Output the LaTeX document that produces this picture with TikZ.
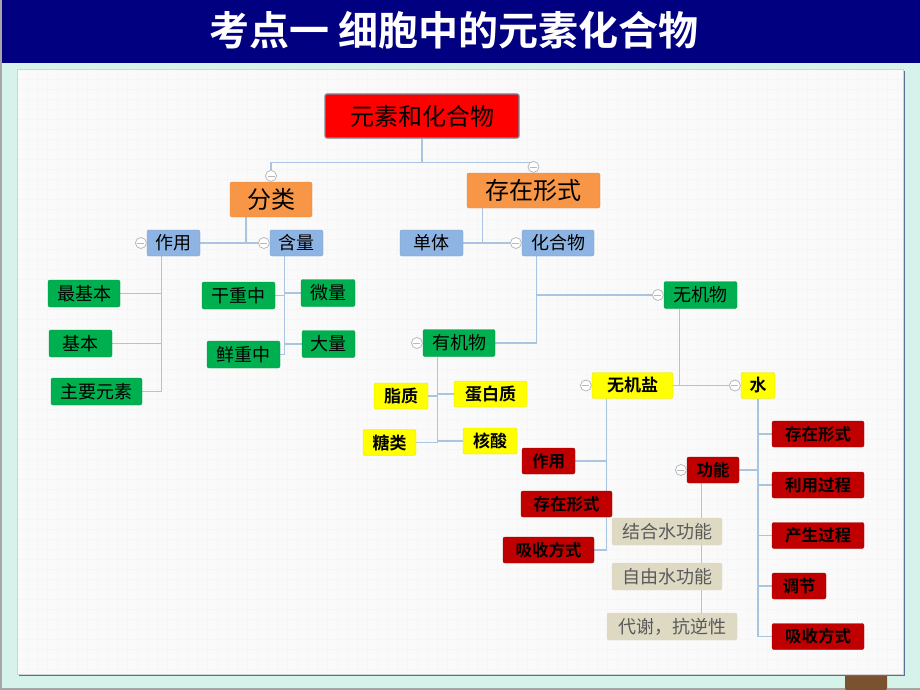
\documentclass[tikz,border=0pt]{standalone}
\usepackage{fontspec}
\usepackage{tikz}
\usetikzlibrary{positioning, calc}
\newfontfamily\cjk{Noto Sans CJK SC}
\newfontfamily\cjkb{Noto Sans CJK SC Bold}
\definecolor{navy}{HTML}{000080}
\definecolor{mint}{HTML}{D5F2EB}
\definecolor{paper}{HTML}{FAFAFA}
\definecolor{panelshadow}{HTML}{5E6E8E}
\definecolor{linkblue}{HTML}{A9C5DF}
\definecolor{rootred}{HTML}{FF0000}
\definecolor{orangebox}{HTML}{F79646}
\definecolor{bluebox}{HTML}{8DB4E2}
\definecolor{greenbox}{HTML}{00B050}
\definecolor{yellowbox}{HTML}{FFFF00}
\definecolor{darkredbox}{HTML}{C00000}
\definecolor{beigebox}{HTML}{DDD9C3}
\definecolor{beigetext}{HTML}{5A5A5A}
\definecolor{potbrown}{HTML}{7A5230}
\pgfdeclarelayer{back}
\pgfdeclarelayer{links}
\pgfsetlayers{back,links,main}

\tikzset{
    box/.style={rounded corners=2pt, minimum height=26pt, inner sep=0pt, text=black, line width=0.4pt},
    rootbox/.style={box, fill=rootred, draw=linkblue!70!black, line width=1.2pt, minimum height=44pt,
        font=\cjk\fontsize{24}{28}\selectfont},
    catbox/.style={box, fill=orangebox, draw=orangebox!75!gray, minimum height=35pt,
        font=\cjk\fontsize{24}{28}\selectfont},
    subbox/.style={box, fill=bluebox, draw=bluebox!90!black, font=\cjk\fontsize{18}{21}\selectfont},
    leafbox/.style={box, fill=greenbox, draw=greenbox!90!black, minimum height=27pt,
        font=\cjk\fontsize{18}{21}\selectfont},
    kindbox/.style={box, fill=yellowbox, draw=yellowbox!90!black, font=\cjkb\fontsize{17}{20}\selectfont},
    partbox/.style={box, fill=darkredbox, draw=darkredbox!85!black, font=\cjkb\fontsize{16.5}{20}\selectfont},
    notebox/.style={box, fill=beigebox, draw=beigebox, minimum height=27pt, text=beigetext,
        font=\cjk\fontsize{18}{21}\selectfont},
    fold/.style={circle, draw=gray!55, fill=white, line width=0.8pt, minimum size=11pt, inner sep=0pt,
        path picture={\draw[gray!55, line width=0.8pt]
            ([xshift=-3.5pt]path picture bounding box.center) -- ([xshift=3.5pt]path picture bounding box.center);}},
    link/.style={draw=linkblue, line width=1.2pt},
    gridline/.style={draw=gray!7, line width=0.3pt},
}

\begin{document}
\begin{tikzpicture}[x=1pt, y=-1pt]
    \useasboundingbox (0,0) rectangle (920,690);

    % slide background, header and paper
    \begin{pgfonlayer}{back}
        \fill[mint] (0,0) rectangle (920,690);
        \fill[navy] (0,0) rectangle (920,63);
        \draw[gray!70, line width=2pt] (1,0) -- (1,689) -- (920,689);
        \fill[potbrown, rounded corners=4pt] (845,662) rectangle (887,692);
        \fill[panelshadow] (19,71) rectangle (905,676);
        \fill[paper] (17,69) rectangle (903,674);

        % faint grid on the paper
        \foreach \x in {27,37,...,897}
        {
            \draw[gridline] (\x,69) -- (\x,674);
        }
        \foreach \y in {79,89,...,669}
        {
            \draw[gridline] (17,\y) -- (903,\y);
        }
        \draw[gray!35, line width=0.5pt] (17,69) rectangle (903,674);
    \end{pgfonlayer}

    % title
    \node[font=\cjkb\fontsize{40}{48}\selectfont, text=white] (title) at (454,30) {考点一 细胞中的元素化合物};

    % root and categories
    \node[rootbox, minimum width=194pt] (root) at (422,116) {元素和化合物};
    \foreach \name/\x/\y/\w/\txt in {
        fl/271/199.5/82pt/分类,
        cz/533.5/190.5/133pt/存在形式}
    {
        \node[catbox, minimum width=\w] (\name) at (\x,\y) {\txt};
    }

    % second level
    \foreach \name/\x/\y/\w/\txt in {
        zy/173.5/243/53pt/作用,
        hl/296.5/243/53pt/含量,
        dt/431.5/243/63pt/单体,
        hhw/558/243/72pt/化合物}
    {
        \node[subbox, minimum width=\w] (\name) at (\x,\y) {\txt};
    }

    % green leaves
    \foreach \name/\x/\y/\w/\txt in {
        zjb/84/293.5/72pt/最基本,
        jb/80.5/343.5/63pt/基本,
        zyys/96.5/391.5/91pt/主要元素,
        gz/238.5/295.5/73pt/干重中,
        wl/328/293/54pt/微量,
        xz/243.5/354.5/73pt/鲜重中,
        dl/328.5/344/53pt/大量,
        wjw/700.5/295/73pt/无机物,
        yjw/459/343/72pt/有机物}
    {
        \node[leafbox, minimum width=\w] (\name) at (\x,\y) {\txt};
    }

    % yellow kinds
    \foreach \name/\x/\y/\w/\txt in {
        zz/401/396/54pt/脂质,
        dbz/490.5/394/73pt/蛋白质,
        tl/389.5/442.5/53pt/糖类,
        hs/490/441/54pt/核酸,
        wjy/632.5/385.5/81pt/无机盐,
        sh/758/385.5/34pt/水}
    {
        \node[kindbox, minimum width=\w] (\name) at (\x,\y) {\txt};
    }

    % dark red parts
    \foreach \name/\x/\y/\w/\txt in {
        zy2/548.5/461/53pt/作用,
        cz2/566.5/504/91pt/存在形式,
        xs2/548.5/550/91pt/吸收方式,
        cz3/818/434/92pt/存在形式,
        gn/713/470/52pt/功能,
        ly/818/485/92pt/利用过程,
        cs/818/535.5/92pt/产生过程,
        tj/799/586/54pt/调节,
        xs3/818/636.5/92pt/吸收方式}
    {
        \node[partbox, minimum width=\w] (\name) at (\x,\y) {\txt};
    }

    % notes on water
    \foreach \name/\x/\y/\w/\txt in {
        jhs/667/531.5/110pt/结合水功能,
        zys/667/576.5/110pt/自由水功能,
        dx/672/626.5/130pt/代谢，抗逆性}
    {
        \node[notebox, minimum width=\w] (\name) at (\x,\y) {\txt};
    }

    % collapse marks
    \foreach \name in {zy, hl, hhw, wjw, yjw, wjy, sh, gn}
    {
        \node[fold, left=0pt of \name] (\name-f) {};
    }
    \foreach \name in {fl, cz}
    {
        \node[fold, above=0pt of \name] (\name-f) {};
    }

    % connectors
    \begin{pgfonlayer}{links}
        \foreach \cat in {fl, cz}
        {
            \draw[link] (root.south) -- ++(0,24) -| (\cat-f.north);
        }

        \coordinate (fl-j) at ([xshift=-25pt]fl.south);
        \draw[link] (fl-j) |- (zy.east);
        \draw[link] (zy.east) -- (hl-f.west);

        \coordinate (cz-j) at ([xshift=16pt]cz.south west);
        \draw[link] (cz-j) |- (dt.east);
        \draw[link] (dt.east) -- (hhw-f.west);

        \coordinate (zy-j) at ([xshift=15pt]zy.south west);
        \foreach \leaf in {zjb, jb, zyys}
        {
            \draw[link] (zy-j) |- (\leaf.east);
        }

        \coordinate (hl-j) at ([xshift=15pt]hl.south west);
        \foreach \leaf/\side in {gz/east, xz/east, wl/west, dl/west}
        {
            \draw[link] (hl-j) |- (\leaf.\side);
        }

        \coordinate (hhw-j) at ([xshift=15pt]hhw.south west);
        \draw[link] (hhw-j) |- (yjw.east);
        \draw[link] (hhw-j) |- (wjw-f.west);

        \coordinate (yjw-j) at ([xshift=15pt]yjw.south west);
        \foreach \leaf/\side in {zz/east, tl/east, dbz/west, hs/west}
        {
            \draw[link] (yjw-j) |- (\leaf.\side);
        }

        \coordinate (wjw-j) at ([xshift=16pt]wjw.south west);
        \draw[link] (wjw-j) |- (wjy.east);
        \draw[link] (wjy.east) -- (sh-f.west);

        \coordinate (wjy-j) at ([xshift=15pt]wjy.south west);
        \foreach \leaf in {zy2, cz2, xs2}
        {
            \draw[link] (wjy-j) |- (\leaf.east);
        }

        \draw[link] (sh.south) |- (gn.east);
        \foreach \leaf in {cz3, ly, cs, tj, xs3}
        {
            \draw[link] (sh.south) |- (\leaf.west);
        }

        \coordinate (gn-j) at ([xshift=15pt]gn.south west);
        \foreach \leaf in {jhs, zys, dx}
        {
            \draw[link] (gn-j) |- (\leaf.east);
        }
    \end{pgfonlayer}
\end{tikzpicture}
\end{document}
